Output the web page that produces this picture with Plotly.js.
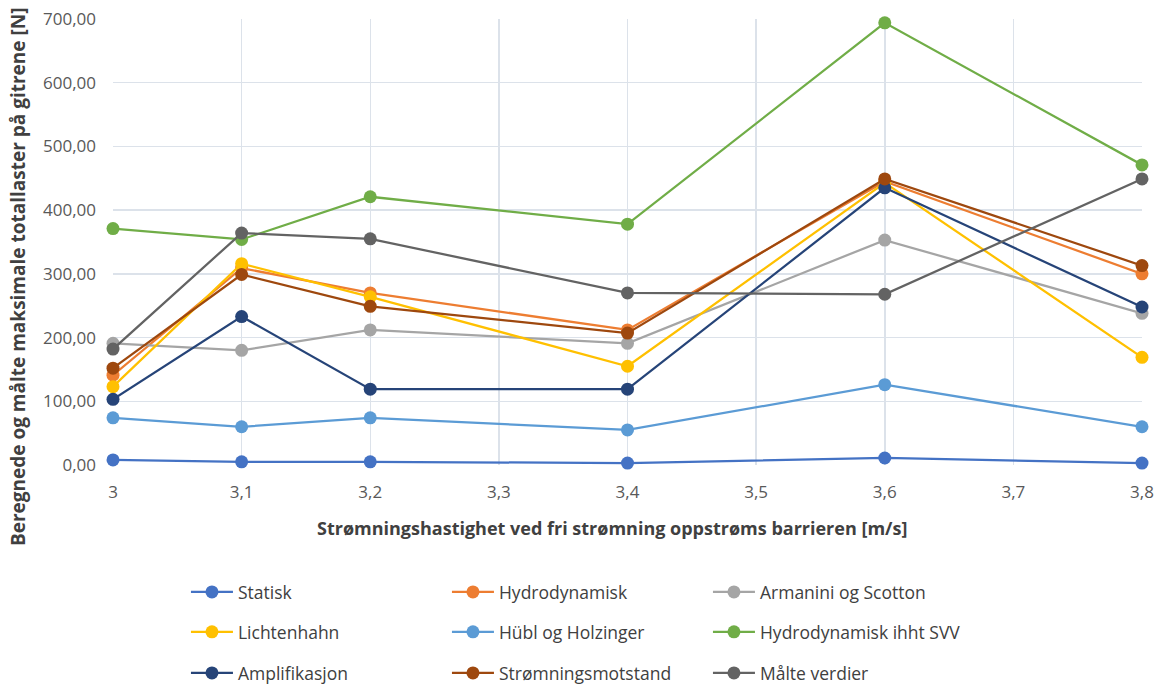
<!DOCTYPE html>
<html><head><meta charset="utf-8">
<script src="https://cdn.plot.ly/plotly-3.0.1.min.js"></script>
<style>html,body{margin:0;padding:0;background:#fff}#chart{width:1162px;height:686px}</style>
</head><body><div id="chart"></div>
<script>
const speeds = [3.0, 3.1, 3.2, 3.4, 3.6, 3.8];
const seriesNames = ["Statisk","Hydrodynamisk","Armanini og Scotton","Lichtenhahn","Hübl og Holzinger","Hydrodynamisk ihht SVV","Amplifikasjon","Strømningsmotstand","Målte verdier"];
const statisk = [8, 5, 5, 3, 11, 3];
const hydrodynamisk = [141, 309, 270, 212, 445, 300];
const armanini = [191, 180, 212, 191, 353, 238];
const lichtenhahn = [123, 316, 264, 155, 443, 169];
const hubl = [74, 60, 74, 55, 126, 60];
const svv = [371, 354, 421, 378, 694, 471];
const amplifikasjon = [103, 233, 119, 119, 435, 248];
const stromning = [152, 299, 249, 207, 449, 313];
const malte = [182, 364, 355, 270, 268, 449];
const seriesValues = [statisk, hydrodynamisk, armanini, lichtenhahn, hubl, svv, amplifikasjon, stromning, malte];
const colors = ["#4472C4","#ED7D31","#A5A5A5","#FFC000","#5B9BD5","#70AD47","#264478","#9E480E","#636363"];
const xTitle = 'Strømningshastighet ved fri strømning oppstrøms barrieren [m/s]';
const yTitle = 'Beregnede og målte maksimale totallaster på gitrene [N]';

const legendIds = ['legend', 'legend2', 'legend3'];
const traces = seriesValues.map((vals, i) => ({
  x: speeds, y: vals, name: seriesNames[i], type: 'scatter', mode: 'lines+markers',
  line: {color: colors[i], width: 2.25},
  marker: {color: colors[i], size: 13},
  cliponaxis: false,
  legend: legendIds[Math.floor(i / 3)]
}));

const FONT = 'Open Sans, Liberation Sans, sans-serif';
const legendBase = (y) => ({
  orientation: 'h', x: 0.0709, xanchor: 'left', y: y, yanchor: 'middle',
  entrywidth: 204, entrywidthmode: 'pixels', itemwidth: 42,
  font: {size: 17.5, color: '#404040', family: FONT}, bgcolor: 'rgba(0,0,0,0)'
});

const layout = {
  width: 1162, height: 686,
  margin: {l: 113, r: 20, t: 19, b: 221, autoexpand: false},
  paper_bgcolor: '#fff', plot_bgcolor: '#fff',
  separators: ', ',
  font: {family: FONT, color: '#595959', size: 14},
  showlegend: true,
  xaxis: {
    range: [3, 3.8], dtick: 0.1, tick0: 3,
    showgrid: true, gridcolor: '#DCE2EA', gridwidth: 1.5,
    zeroline: false, showline: false, ticks: '', automargin: false,
    ticklabelstandoff: 15,
    tickfont: {size: 17, color: '#595959'}
  },
  yaxis: {
    range: [0, 700], dtick: 100, tickformat: '.2f',
    showgrid: true, gridcolor: '#DCE2EA', gridwidth: 1.5,
    zeroline: false, showline: false, ticks: '', automargin: false,
    ticklabelstandoff: 16,
    tickfont: {size: 17, color: '#595959'}
  },
  legend: legendBase(-0.2848),
  legend2: legendBase(-0.3744),
  legend3: legendBase(-0.4664),
  annotations: [
    {text: '<b>' + xTitle + '</b>', xref: 'paper', yref: 'paper', x: 0.485, y: -0.1413,
     xanchor: 'center', yanchor: 'middle', showarrow: false, font: {size: 18, color: '#404040'}},
    {text: '<b>' + yTitle + '</b>', xref: 'paper', yref: 'paper', x: -0.0923, y: 0.4215,
     xanchor: 'center', yanchor: 'middle', textangle: -90, showarrow: false, font: {size: 19, color: '#404040'}}
  ]
};
Plotly.newPlot('chart', traces, layout, {displayModeBar: false, staticPlot: true});
</script></body></html>
